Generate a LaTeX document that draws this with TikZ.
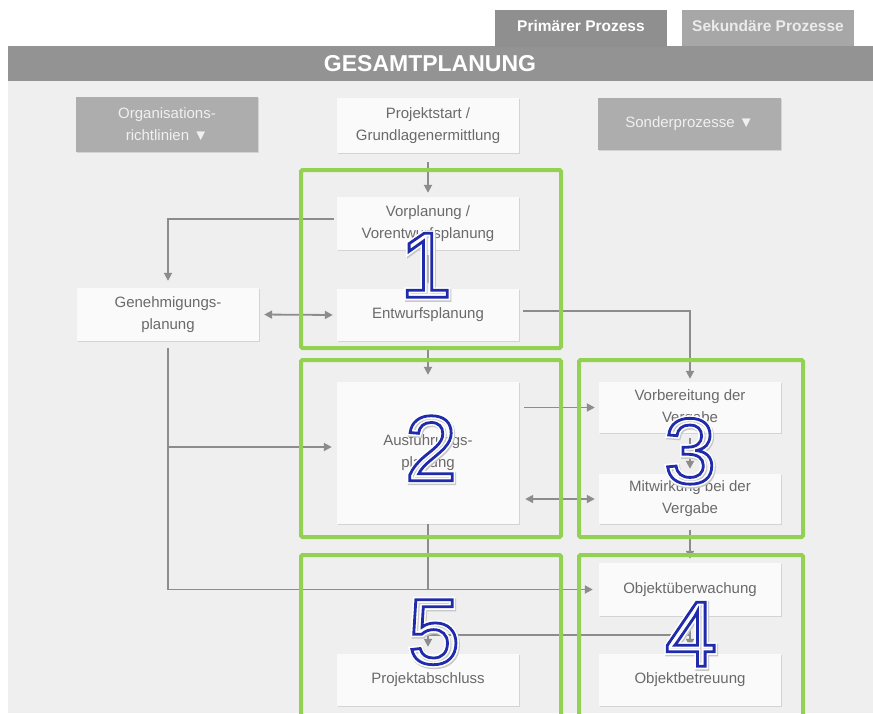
\documentclass[tikz,border=0pt]{standalone}
\usepackage{fontspec}
\setmainfont{Liberation Sans}
\usetikzlibrary{arrows.meta,calc,shadows}
\definecolor{panel}{HTML}{EFEFEF}
\definecolor{banner}{HTML}{939393}
\definecolor{tabA}{HTML}{8F8F8F}
\definecolor{tabB}{HTML}{A7A7A7}
\definecolor{graybox}{HTML}{ADADAD}
\definecolor{boxfill}{HTML}{FAFAFA}
\definecolor{txt}{HTML}{6A6A6A}
\definecolor{conn}{HTML}{8C8C8C}
\definecolor{grn}{HTML}{93D152}
\definecolor{numblue}{HTML}{1F2BAA}
\newcommand\hollowdigit[1]{%
  \makebox[0pt]{\hspace{2pt}\raisebox{-1.5pt}{\color{black!22}\special{pdf:literal direct 1 Tr 6 w}#1\special{pdf:literal direct 0 Tr}}}%
  \makebox[0pt]{\color{white}\special{pdf:literal direct 1 Tr 6 w}#1\special{pdf:literal direct 0 Tr}}%
  \makebox[0pt]{\color{numblue}\special{pdf:literal direct 1 Tr 2.8 w}#1\special{pdf:literal direct 0 Tr}}}
\begin{document}
\begin{tikzpicture}[x=1pt,y=-1pt,
  every node/.style={inner sep=0pt},
  wbox/.style={fill=boxfill, minimum width=182pt, minimum height=53pt, align=center, text=txt,
    font=\fontsize{15}{22}\selectfont,
    drop shadow={shadow xshift=1.3pt,shadow yshift=-1.3pt,fill=black!17,opacity=1}},
  gbox/.style={wbox, fill=graybox, text=white!94!black},
  link/.style={draw=conn, line width=1.8pt},
  arr/.style={link, -{Triangle[length=8pt,width=8pt]}},
  darr/.style={link, {Triangle[length=8pt,width=8pt]}-{Triangle[length=8pt,width=8pt]}},
  phase/.style={draw=grn, line width=4pt, rounded corners=1.5pt},
  num/.style={font=\fontsize{93}{93}\selectfont},
  tabtext/.style={font=\bfseries\fontsize{15.5}{18}\selectfont}
]
\useasboundingbox (0,0) rectangle (873,713);
\fill[white] (0,0) rectangle (873,713);
\fill[panel] (8,80) rectangle (873,713);
\fill[banner] (8,46) rectangle (873,81);
\fill[tabA] (495,10) rectangle (667,47);
\fill[tabB] (682,10) rectangle (854,46);
\node[tabtext, text=white] (tp) at (581,26) {Primärer Prozess};
\node[tabtext, text=white!92!black] (ts) at (768,26) {Sekundäre Prozesse};
\node[font=\bfseries\fontsize{23}{26}\selectfont, text=white] (title) at (430,64) {GESAMTPLANUNG};

% boxes
\node[gbox, minimum height=55pt] (org) at (167,124.5) {Organisations-\\richtlinien ▼};
\node[wbox, minimum height=55pt] (start) at (428,125.5) {Projektstart /\\Grundlagenermittlung};
\node[gbox, minimum width=183pt, minimum height=52pt] (sonder) at (689.5,124) {Sonderprozesse ▼};
\node[wbox] (vor) at (428,223.5) {Vorplanung /\\Vorentwurfsplanung};
\node[wbox] (gen) at (168,314.5) {Genehmigungs-\\planung};
\node[wbox, minimum height=52pt] (entw) at (428,315) {Entwurfsplanung};
\node[wbox, minimum height=142pt] (ausf) at (428,453) {Ausführungs-\\planung};
\node[wbox, minimum height=51pt] (vorb) at (690,407.5) {Vorbereitung der\\Vergabe};
\node[wbox, minimum height=50pt] (mitw) at (690,499) {Mitwirkung bei der\\Vergabe};
\node[wbox] (objue) at (690,589.5) {Objektüberwachung};
\node[wbox, minimum height=52pt] (pabs) at (428,680) {Projektabschluss};
\node[wbox, minimum height=52pt] (objb) at (690,680) {Objektbetreuung};

% connectors
\draw[arr, shorten <=9pt, shorten >=4pt] (start.south) -- (start.south |- vor.north);
\draw[arr] ([xshift=-3pt,yshift=4.5pt]vor.west) -| ([yshift=7pt]gen.north);
\draw[arr, shorten <=5pt, shorten >=5pt] (vor.south) -- (vor.south |- entw.north);
\draw[darr, shorten <=5pt, shorten >=4pt] (gen.east) -- (entw.west);
\draw[arr] ([xshift=4pt,yshift=4pt]entw.east) -| ([yshift=3pt]vorb.north);
\draw[arr, shorten <=6pt, shorten >=7pt] (entw.south) -- (entw.south |- ausf.north);
\draw[arr] ([yshift=-7pt]gen.south) |- ([xshift=-6pt]objue.west);
\coordinate (bj) at ($(ausf.west)+(0,-6)$);
\draw[arr, shorten >=5pt] (gen.south |- bj) -- (bj);
\draw[arr, shorten <=5pt, shorten >=4pt] (ausf.east |- vorb.west) -- (vorb.west);
\draw[darr, shorten <=6pt, shorten >=4pt] (ausf.east |- mitw.west) -- (mitw.west);
\draw[arr, shorten <=5pt, shorten >=5pt] (vorb.south) -- (mitw.north);
\draw[arr, shorten <=6pt, shorten >=4pt] (mitw.south) -- (objue.north);
\draw[link] (ausf.south) -- (ausf.south |- objue.west);
\draw[arr, shorten >=7pt] (objue.south) -- (objb.north);
\coordinate (jn) at ($(objue.south)!0.5!(objb.north)$);
\draw[arr] (jn) -| ([yshift=7pt]pabs.north);

% phases
\draw[phase] (301,170) rectangle (561,348);
\draw[phase] (301,360) rectangle (561,537);
\draw[phase] (579,360) rectangle (803,537);
\draw[phase] (301,555) rectangle (561,730);
\draw[phase] (579,555) rectangle (803,730);

% numbers
\node[num] (n1) at (426,266) {\hollowdigit{1}};
\node[num] (n2) at (431,449) {\hollowdigit{2}};
\node[num] (n3) at (690,452) {\hollowdigit{3}};
\node[num] (n5) at (434,633) {\hollowdigit{5}};
\node[num] (n4) at (691,635) {\hollowdigit{4}};
\end{tikzpicture}
\end{document}
